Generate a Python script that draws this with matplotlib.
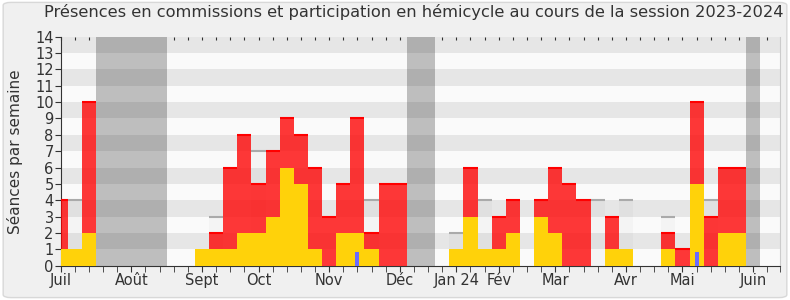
import matplotlib.pyplot as plt
import numpy as np
from matplotlib.patches import FancyBboxPatch

# weekly values, week 0 = first week of July 2023
weeks = np.arange(51)
commission = [4, 0, 10, 0, 0, 0, 0, 0, 0, 0,
              0, 2, 6, 8, 5, 7, 9, 8, 6, 3,
              5, 9, 2, 5, 5, 0, 0, 0, 0, 6,
              0, 3, 4, 0, 4, 6, 5, 4, 0, 3,
              0, 0, 0, 2, 1, 10, 3, 6, 6, 0, 0]
hemicycle = [1, 1, 2, 0, 0, 0, 0, 0, 0, 0,
             1, 1, 1, 2, 2, 3, 6, 5, 1, 0,
             2, 2, 1, 0, 0, 0, 0, 0, 1, 3,
             1, 1, 2, 0, 3, 2, 0, 0, 0, 1,
             1, 0, 0, 1, 0, 5, 0, 2, 2, 0, 0]
seances = [0, 4, 0, 0, 0, 0, 0, 0, 0, 0,
           0, 3, 0, 0, 7, 0, 0, 0, 0, 0,
           0, 0, 4, 0, 0, 0, 0, 0, 2, 0,
           4, 0, 0, 0, 0, 0, 0, 0, 4, 0,
           4, 0, 0, 3, 0, 0, 4, 0, 0, 0, 0]
questions_weeks = [21, 45]
questions = [0.85, 0.85]
vacances = [3, 4, 5, 6, 7, 25, 26, 49]

month_pos = [0, 5, 10, 14, 19, 24, 28, 31, 35, 40, 44, 49]
month_labels = ["Juil", "Août", "Sept", "Oct", "Nov", "Déc", "Jan 24", "Fév",
                "Mar", "Avr", "Mai", "Juin"]

commission = np.array(commission)
hemicycle = np.array(hemicycle)
seances = np.array(seances)

text_color = "#333333"
plt.rcParams["font.family"] = "DejaVu Sans"

fig = plt.figure(figsize=(7.9, 3.0), dpi=100, facecolor="white")
fig.patches.append(FancyBboxPatch((0.004, 0.008), 0.992, 0.984,
                                  boxstyle="round,pad=0,rounding_size=0.01",
                                  transform=fig.transFigure, facecolor="#f0f0f0",
                                  edgecolor="#d8d8d8", lw=1, zorder=-10))
ax = fig.add_axes([0.0768, 0.1143, 0.9105, 0.7634])
ax.set_facecolor("#fafafa")

ax.bar(vacances, 14, width=1, color="#bebebe", lw=0, zorder=1)
for y in range(1, 14, 2):
    ax.axhspan(y, y + 1, color="black", alpha=0.08, lw=0, zorder=1.5)

m = seances > 0
ax.bar(weeks[m], seances[m], width=1, color="black", alpha=0.025, lw=0, zorder=2)
ax.hlines(seances[m], weeks[m] - 0.5, weeks[m] + 0.5, color="#aaaaaa", lw=1.5, zorder=2.1)

m = commission > 0
ax.bar(weeks[m], commission[m], width=1, color="#ff0000", alpha=0.78, lw=0, zorder=3)
ax.hlines(commission[m], weeks[m] - 0.5, weeks[m] + 0.5, color="#ff0000", lw=1.5, zorder=3.1)

m = hemicycle > 0
ax.bar(weeks[m], hemicycle[m], width=1, color="#ffd20a", lw=0, zorder=4)
ax.bar(questions_weeks, questions, width=0.28, color="#6b6bff", lw=0, zorder=5)

ax.set_xlim(0, 50.9)
ax.set_ylim(0, 14)
ax.set_yticks(range(15))
ax.set_xticks(month_pos)
ax.set_xticklabels(month_labels)
ax.set_xticks(list(range(51)) + [50.9], minor=True)
ax.tick_params(axis="x", which="both", length=4, color=text_color, labelcolor=text_color,
               labelsize=10.5, pad=1)
ax.tick_params(axis="y", length=4, color=text_color, labelcolor=text_color, labelsize=10.5, pad=1)

top = ax.secondary_xaxis("top")
top.set_xticks(range(51), labels=[])
top.tick_params(direction="in", length=2, color=text_color)
top.spines["top"].set_visible(False)

ax.spines["top"].set_visible(False)
ax.spines["right"].set_color("#cccccc")
ax.spines["left"].set_color(text_color)
ax.spines["bottom"].set_color(text_color)

ax.set_ylabel("Séances par semaine", color=text_color, fontsize=11, labelpad=9)
fig.suptitle("Présences en commissions et participation en hémicycle au cours de la session 2023-2024",
             x=0.524, y=0.985, color=text_color, fontsize=11.7)

fig.savefig("out.png", dpi=100, facecolor="white")
